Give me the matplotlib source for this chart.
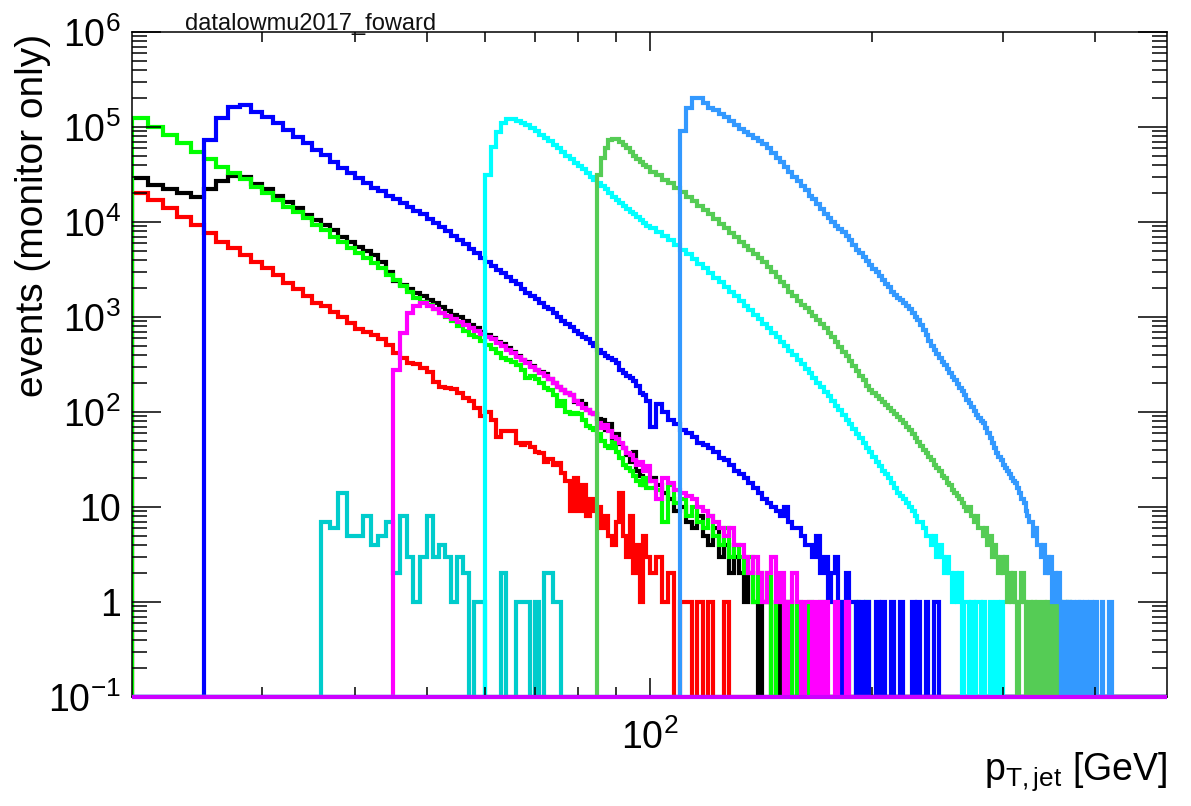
import numpy as np
import matplotlib
matplotlib.use("Agg")
import matplotlib.pyplot as plt

plt.rcParams['font.family'] = ['Liberation Sans', 'DejaVu Sans']
plt.rcParams['mathtext.fontset'] = 'custom'
plt.rcParams['mathtext.rm'] = 'Liberation Sans'
plt.rcParams['mathtext.it'] = 'Liberation Sans:italic'
plt.rcParams['mathtext.bf'] = 'Liberation Sans:bold'

# binning: 1 GeV up to 100 GeV, 2 GeV above
edges = np.concatenate([np.arange(20, 100), np.arange(100, 501, 2)]).astype(float)

# bin contents, listed from each histogram's first filled bin
red_start = 20
red_counts = [
    20200, 17100, 14100, 11300, 9300, 7700, 6200, 5300, 4500, 3800, 3300, 2800, 2300, 1950,
    1650, 1420, 1290, 1140, 1000, 870, 740, 690, 650,
    580, 510, 420, 370, 330, 320, 290, 265, 205, 185, 180, 175, 160, 140, 130, 110, 90, 100,
    83, 55, 63, 63, 63, 47, 45, 47, 43, 38, 37, 30, 32, 28, 29, 23, 19, 9, 20, 9, 17, 8,
    12, 9, 10, 6, 8, 5, 4, 7, 14, 5, 3, 8, 2, 4, 1, 5, 3,
    2, 3, 1, 2, 0, 1, 1, 0, 1, 0, 1, 0, 0, 1]

black_start = 20
black_counts = [
    29000, 24600, 22000, 20000, 18500, 22000, 27000, 30500, 29700, 25000, 22000, 18800,
    16300, 14100, 11900, 10500, 9300, 8200, 7000, 6150, 5500, 4900, 4500,
    3800, 3000, 2400, 2150, 1950, 1780, 1650, 1500, 1400, 1280, 1170, 1060, 1000, 900, 830,
    770, 700, 650, 600, 550, 520, 470, 430, 390, 350, 340, 305, 280, 265, 250, 220, 200,
    185, 170, 160, 150, 128, 130, 120, 105, 98, 95, 85, 82, 65, 75, 52, 58, 46, 42, 35, 30,
    38, 24, 21, 17, 19,
    20, 17, 14, 12, 9, 10, 7, 6, 8, 5, 4, 6, 3, 4, 2, 3, 2, 1, 2, 1, 0, 1, 1, 0, 1, 0, 0, 1]

green_start = 20
green_counts = [
    124000, 100000, 82000, 68000, 55000, 46000, 38000, 33000, 28400, 23400, 20200, 17100,
    14400, 12700, 11000, 9300, 8200, 6950, 6150, 5300, 4700, 4200, 3700,
    3300, 2800, 2450, 2100, 1850, 1600, 1450, 1330,
    1220, 1100, 1000, 910, 800, 720, 650, 610, 560,
    510, 465, 420, 370, 350, 340, 310, 280, 230, 240, 220, 200, 180, 170, 150, 115, 130,
    100, 95, 98, 96, 83, 72, 68, 65, 58, 50, 44, 42, 48, 38, 33, 28, 26, 24, 21, 19, 17, 20, 16,
    16, 15, 7, 17, 11, 12, 8, 10, 7, 6, 8, 5, 4, 6, 3, 4, 3, 2, 3, 1, 2, 1, 2, 0, 1, 1, 0,
    1, 0, 1, 0, 0, 1, 0, 0, 1, 0, 0, 0, 0, 1, 0, 1, 0, 0, 1, 0, 0, 1]

blue_start = 25
blue_counts = [
    73000, 124000, 162000, 170000, 144000, 128000, 110000, 93000, 79000, 68000, 57500,
    51000, 43000, 37000, 33000, 29000, 26000, 23000,
    21000, 19000, 17500, 16000, 14500, 13000, 12000, 10800, 9800, 8900, 8100, 7100, 6500,
    5900, 5200, 4700, 4200, 3800, 3450, 3150, 2900, 2650, 2400, 2200, 1950, 1800, 1650,
    1550, 1400, 1280, 1200, 1100, 1000, 910, 850, 790, 720, 670, 620, 580, 530, 500, 450,
    420, 390, 370, 350, 330, 280, 260, 240, 230, 210, 190, 160, 150, 130,
    70, 120, 100, 83, 74, 65, 60, 55, 47, 45, 42, 38, 33, 31, 28, 24, 22, 20, 18, 16, 14,
    12, 11, 10, 9, 8, 10, 7, 6, 6, 5, 4, 4, 3, 5, 2, 3, 1, 2, 3, 1, 0, 2, 1, 1, 0, 1, 0, 1,
    0, 0, 1, 0, 1, 0, 0, 1, 0, 0, 1, 0, 0, 0, 1, 0, 1, 0, 0, 1, 0, 0, 1, 1]

teal_start = 36
teal_counts = [7, 6, 14, 5, 5, 8, 4, 5, 7, 2, 8, 3, 1, 3, 8, 3, 4, 3, 1, 3, 2, 0, 1, 1, 0,
               0, 0, 2, 0, 0, 1, 1, 1, 0, 1, 0, 2, 2, 1, 1]

magenta_start = 45
magenta_counts = [
    277, 680, 1100, 1290, 1400, 1320, 1220, 1100, 1030, 950, 880, 830, 770, 710, 660, 620,
    580, 530, 500, 450, 420, 380, 350, 330, 300, 280, 260, 240, 220, 200, 185, 170, 160,
    150, 130, 120, 110, 105, 97, 95, 77, 68, 73, 63, 55, 52, 47, 42, 37, 35, 31, 28, 30, 24, 27,
    19, 12, 20, 18, 15, 14, 13, 12, 10, 9, 8, 7, 6, 5, 6, 4, 4, 3, 2, 3, 2, 1, 2, 3, 1, 2,
    0, 1, 2, 1, 0, 1, 1, 0, 1, 0, 1, 0, 0, 1, 0, 0, 1]

cyan_start = 60
cyan_counts = [
    31000, 62000, 89000, 110000, 120000, 120000, 115000, 110000, 104000, 97000,
    90000, 83000, 77000, 71000, 65000, 60000, 55000, 50000, 46000, 42000,
    39000, 36000, 33000, 30000, 28000, 26000, 24000, 22000, 20000, 18500,
    17000, 16000, 14800, 13700, 12800, 12000, 11200, 10400, 9700, 9000,
    8600, 7900, 7100, 6400, 5700, 5100, 4550, 4050, 3650, 3250, 2900, 2600, 2330, 2080,
    1850, 1650, 1480, 1320, 1180, 1060, 950, 850, 760, 680, 610, 545, 490, 440, 395, 355,
    320, 285, 255, 228, 204, 182, 163, 146, 130, 116, 104, 93, 83, 74, 66, 59, 53, 47, 42,
    38, 34, 30, 27, 24, 22, 20, 18, 16, 14, 13, 12, 11, 10, 9, 8, 7, 7, 6, 5, 5, 4, 5, 3,
    4, 3, 2, 3, 2, 1, 2, 1, 2, 0, 1, 1, 0, 1, 0, 1, 1, 0, 1, 0, 0, 1, 0, 0, 1, 0, 1]

mgreen_start = 85
mgreen_counts = [
    31000, 47000, 60000, 73000, 75000, 75000, 69000, 65000, 60000, 55000, 50000, 46000,
    43000, 40000, 37500,
    34000, 31000, 28000, 25500, 23000, 20500, 18500, 16500, 14800, 13300, 12000, 10700,
    9600, 8600, 7700, 6900, 6200, 5600, 5100, 4600, 4200, 3800, 3400, 3000, 2650, 2350,
    2100, 1850, 1650, 1480, 1350, 1230, 1120, 1020, 930, 840, 760, 680, 610, 545, 485, 430,
    385, 345, 305, 270, 240, 215, 190, 170, 160, 148, 138, 128, 118, 110, 102, 95, 88, 82,
    76, 70, 64, 58, 53, 48, 44, 40, 37, 34, 31, 28, 26, 24, 21, 20, 18, 17, 15, 14, 13, 12,
    11, 10, 9, 10, 8, 7, 8, 6, 6, 5, 6, 4, 5, 3, 4, 3, 2, 3, 2, 3, 1, 2, 1, 2, 1, 0, 1, 2,
    1, 0, 1, 1, 0, 1, 0, 1, 0, 0, 1, 0, 1, 0, 0, 1, 0, 0, 1, 0, 0, 1, 0, 0, 1]

lblue_start = 110
lblue_counts = [
    90000, 160000, 200000, 200000, 180000, 160000, 150000, 138000, 127000, 117000, 106000,
    96000, 89000, 82000, 76000, 71000, 66000, 60000, 53000, 47000, 43000, 38000, 34000,
    30000, 27000, 24000, 21500, 19000, 17500, 15500, 13800, 12200, 11000, 10000, 9100,
    8400, 7800, 7100, 6400, 5700, 5100, 4700, 4300, 3900, 3500, 3200, 2950, 2700, 2450,
    2250, 2050, 1850, 1700, 1600, 1500, 1400, 1300, 1200, 1100, 1000, 940, 830, 730, 640,
    560, 490, 450, 410, 370, 340, 310, 285, 260, 235, 215, 195, 180, 165, 150, 134, 124,
    112, 102, 94, 86, 80, 77, 68, 60, 53, 47, 42, 37, 34, 31, 28, 26, 24, 22, 20, 19, 18,
    16, 14, 12, 11, 9, 8, 7, 7, 5, 6, 4, 4, 3, 4, 2, 3, 2, 3, 1, 2, 1, 2, 1, 0, 1, 1, 0, 1,
    0, 1, 0, 0, 1, 0, 1, 0, 0, 1, 0, 0, 1, 0, 0, 1, 0, 0, 0, 1, 0, 0, 0, 0, 1, 1]


def filled(start, counts):
    h = np.zeros(len(edges) - 1)
    i0 = np.searchsorted(edges, start)
    h[i0:i0 + len(counts)] = counts
    return h


hists = [
    (red_start, red_counts, '#ff0000'),
    (black_start, black_counts, '#000000'),
    (green_start, green_counts, '#00ff00'),
    (blue_start, blue_counts, '#0000ff'),
    (teal_start, teal_counts, '#00cccc'),
    (magenta_start, magenta_counts, '#ff00ff'),
    (cyan_start, cyan_counts, '#00ffff'),
    (mgreen_start, mgreen_counts, '#55cc55'),
    (lblue_start, lblue_counts, '#3399ff'),
]

ymin, ymax = 0.1, 1e6

fig = plt.figure(figsize=(11.91, 8.06), dpi=100)
ax = fig.add_axes([132 / 1191, 1 - 697 / 806, (1167 - 132) / 1191, (697 - 32) / 806])
ax.set_xscale('log')
ax.set_yscale('log')

for start, counts, col in hists:
    h = np.clip(filled(start, counts), ymin, None)
    ax.stairs(h, edges, baseline=ymin, color=col, lw=3.0)

# empty monitor histogram, sits on the frame bottom
ax.stairs(np.full(len(edges) - 1, ymin), edges, baseline=None, color='#cc00ff',
          lw=3.0, clip_on=False, zorder=3)

ax.set_xlim(20, 500)
ax.set_ylim(ymin, ymax)

ax.set_xticks([100])
ax.set_xticklabels([r'$10^{2}$'])
ax.set_xticks([30, 40, 50, 60, 70, 80, 90, 200, 300, 400], minor=True)
ax.set_xticklabels([], minor=True)

ymaj = [0.1, 1, 10, 1e2, 1e3, 1e4, 1e5, 1e6]
ylab = [r'$10^{-1}$', '1', '10', r'$10^{2}$', r'$10^{3}$', r'$10^{4}$', r'$10^{5}$', r'$10^{6}$']
ax.set_yticks(ymaj)
ax.set_yticklabels(ylab)
ymin_ticks = [m * 10.0 ** e for e in range(-1, 6) for m in range(2, 10)]
ax.set_yticks(ymin_ticks, minor=True)
ax.set_yticklabels([], minor=True)

ax.tick_params(axis='both', which='both', direction='in', top=True, right=True,
               width=1.1, labelsize=27)
ax.tick_params(axis='y', which='major', length=21, pad=8)
ax.tick_params(axis='y', which='minor', length=10.5)
ax.tick_params(axis='x', which='major', length=14, pad=16)
ax.tick_params(axis='x', which='minor', length=7.5)
for s in ax.spines.values():
    s.set_linewidth(1.1)

fig.text(185 / 1191, 1 - 30 / 806, 'datalowmu2017_foward', fontsize=17,
         ha='left', va='baseline', color='#111111')
fig.text(33 / 1191, 1 - 215 / 806, 'events (monitor only)', fontsize=28,
         rotation=90, ha='center', va='center')
fig.text(1167 / 1191, 1 - 780 / 806, r'$\mathregular{p_{T,jet}}$ [GeV]', fontsize=27,
         ha='right', va='baseline')

fig.savefig('out.png', dpi=100)
